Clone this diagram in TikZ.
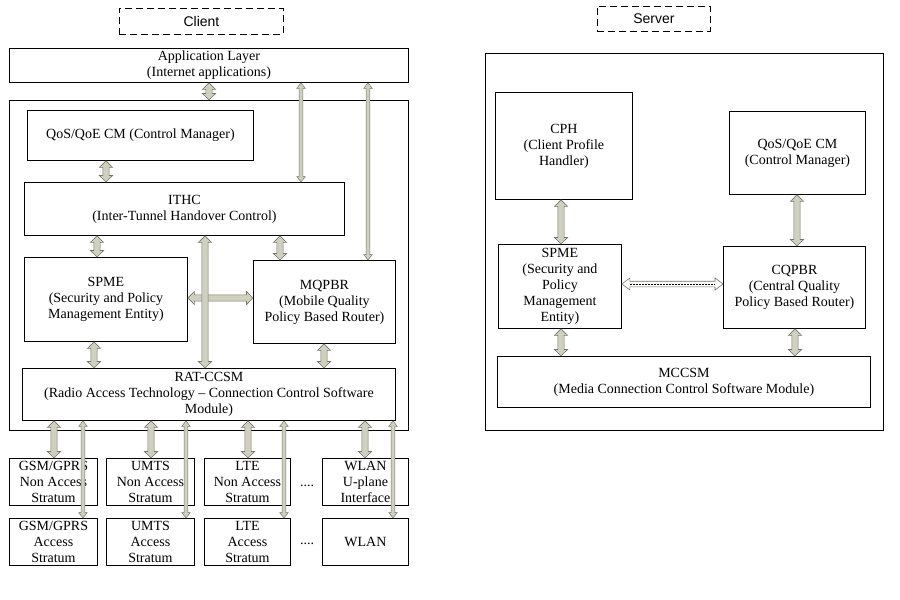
\documentclass[tikz,border=0pt]{standalone}
\usepackage{fontspec}
\setmainfont{Liberation Serif}
\newfontfamily\arialf{Liberation Sans}
\usetikzlibrary{calc}
\definecolor{afill}{RGB}{208,208,192}
\definecolor{aline}{RGB}{118,118,104}
\begin{document}
\begin{tikzpicture}[x=1pt,y=-1pt,
  box/.style={draw, line width=0.9pt, inner sep=0pt, align=center,
    font=\fontsize{14}{16}\selectfont, anchor=north west},
  lbl/.style={box, dash pattern=on 7pt off 4pt, font=\arialf\fontsize{14}{16}\selectfont},
  blk/.style n args={3}{to path={
    let \p1=(\tikztostart), \p2=(\tikztotarget) in
    -- ($(\p1)!#3!(\p2)!#2!90:(\p2)$)
    -- ($(\p1)!#3!(\p2)!#1!90:(\p2)$)
    -- ($(\p2)!#3!(\p1)!#1!-90:(\p1)$)
    -- ($(\p2)!#3!(\p1)!#2!-90:(\p1)$)
    -- (\p2)
    -- ($(\p2)!#3!(\p1)!#2!90:(\p1)$)
    -- ($(\p2)!#3!(\p1)!#1!90:(\p1)$)
    -- ($(\p1)!#3!(\p2)!#1!-90:(\p2)$)
    -- ($(\p1)!#3!(\p2)!#2!-90:(\p2)$)
    -- cycle}},
  thk/.style={blk={3.1pt}{6.6pt}{6.5pt}, fill=afill, draw=aline, line width=0.6pt, line join=miter},
  thn/.style={blk={1.9pt}{4.3pt}{5.5pt}, fill=afill, draw=aline, line width=0.5pt, line join=miter},
  hol/.style={blk={2.8pt}{6pt}{8pt}, fill=white, draw=aline, line width=0.6pt, line join=miter},
  dotsty/.style={font=\fontsize{14}{16}\selectfont, inner sep=0pt, anchor=base},
]
\useasboundingbox (0,0) rectangle (900,600);

% labels
\node[lbl, minimum width=164pt, minimum height=26pt] (clientlbl) at (119,8) {Client};
\node[lbl, minimum width=113pt, minimum height=25pt] (serverlbl) at (597,6) {Server};

% client
\node[box, minimum width=399pt, minimum height=34pt] (app) at (9,48) {Application Layer\\(Internet applications)};
\node[box, minimum width=399pt, minimum height=330pt] (cmain) at (9,100) {};
\node[box, minimum width=226pt, minimum height=50pt] (cqos) at (27,110) {QoS/QoE CM (Control Manager)};
\node[box, minimum width=320pt, minimum height=53pt] (ithc) at (24,182) {ITHC\\(Inter-Tunnel Handover Control)};
\node[box, minimum width=163pt, minimum height=84pt] (cspme) at (24,257) {SPME\\(Security and Policy\\Management Entity)};
\node[box, minimum width=142pt, minimum height=83pt] (mqpbr) at (253,260) {MQPBR\\(Mobile Quality\\Policy Based Router)};
\node[box, minimum width=373pt, minimum height=52pt] (rat) at (22,368) {RAT-CCSM\\(Radio Access Technology -- Connection Control Software\\Module)};

\node[box, minimum width=88pt, minimum height=47pt] (gna) at (9,458) {GSM/GPRS\\Non Access\\Stratum};
\node[box, minimum width=88pt, minimum height=47pt] (una) at (106,458) {UMTS\\Non Access\\Stratum};
\node[box, minimum width=86pt, minimum height=47pt] (lna) at (204,458) {LTE\\Non Access\\Stratum};
\node[box, minimum width=86pt, minimum height=47pt] (wna) at (322,458) {WLAN\\U-plane\\Interface};
\node[box, minimum width=88pt, minimum height=47pt] (ga) at (9,518) {GSM/GPRS\\Access\\Stratum};
\node[box, minimum width=88pt, minimum height=47pt] (ua) at (106,518) {UMTS\\Access\\Stratum};
\node[box, minimum width=86pt, minimum height=47pt] (la) at (204,518) {LTE\\Access\\Stratum};
\node[box, minimum width=86pt, minimum height=47pt] (wa) at (322,518) {WLAN};
\node[dotsty] (dots1) at (307,486) {....};
\node[dotsty] (dots2) at (307,544) {....};

% server
\node[box, minimum width=398pt, minimum height=377pt] (smain) at (485,53) {};
\node[box, minimum width=137pt, minimum height=107pt] (cph) at (495,92) {CPH\\(Client Profile\\Handler)};
\node[box, minimum width=136pt, minimum height=83pt] (sqos) at (729,111) {QoS/QoE CM\\(Control Manager)};
\node[box, minimum width=123pt, minimum height=84pt] (sspme) at (498,244) {SPME\\(Security and\\Policy\\Management\\Entity)};
\node[box, minimum width=142pt, minimum height=82pt] (cqpbr) at (723,246) {CQPBR\\(Central Quality\\Policy Based Router)};
\node[box, minimum width=373pt, minimum height=51pt] (mccsm) at (497,356) {MCCSM\\(Media Connection Control Software Module)};

% client arrows
\draw[thk] (app.south -| 209,0) to (cmain.north -| 209,0);
\draw[thk] (cqos.south -| 106,0) to (ithc.north -| 106,0);
\draw[thk] (ithc.south -| 97,0) to (cspme.north -| 97,0);
\draw[thk] (ithc.south -| 280,0) to (mqpbr.north -| 280,0);
\draw[thk] (cspme.east |- 0,298) to (mqpbr.west |- 0,298);
\draw[thk] (ithc.south -| 205,0) to (rat.north -| 205,0);
\draw[thk] (cspme.south -| 94,0) to (rat.north -| 94,0);
\draw[thk] (mqpbr.south -| 324,0) to (rat.north -| 324,0);
\draw[thk] (rat.south -| 54,0) to (gna.north -| 54,0);
\draw[thk] (rat.south -| 151,0) to (una.north -| 151,0);
\draw[thk] (rat.south -| 248,0) to (lna.north -| 248,0);
\draw[thk] (rat.south -| 365,0) to (wna.north -| 365,0);
\draw[thn] (app.south -| 301,0) to (ithc.north -| 301,0);
\draw[thn] (app.south -| 368,0) to (mqpbr.north -| 368,0);
\draw[thn] (rat.south -| 83,0) to (ga.north -| 83,0);
\draw[thn] (rat.south -| 186,0) to (ua.north -| 186,0);
\draw[thn] (rat.south -| 284,0) to (la.north -| 284,0);
\draw[thn] (rat.south -| 393,0) to (wa.north -| 393,0);

% server arrows
\draw[thk] (cph.south -| 561,0) to (sspme.north -| 561,0);
\draw[thk] (sqos.south -| 797,0) to (cqpbr.north -| 797,0);
\draw[thk] (sspme.south -| 561,0) to (mccsm.north -| 561,0);
\draw[thk] (cqpbr.south -| 795,0) to (mccsm.north -| 795,0);
\draw[hol] (sspme.east |- 0,284) to (cqpbr.west |- 0,284);
\draw[densely dotted, line width=0.5pt, shorten <=8pt, shorten >=8pt] (sspme.east |- 0,284) -- (cqpbr.west |- 0,284);
\end{tikzpicture}
\end{document}
